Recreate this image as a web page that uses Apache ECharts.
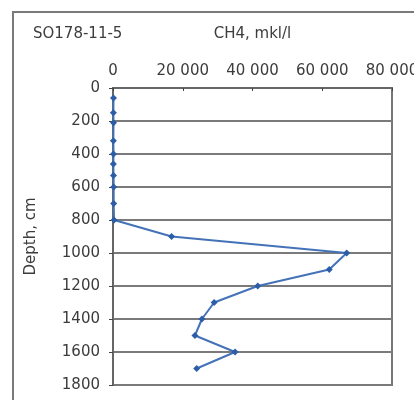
<!DOCTYPE html>
<html>
<head>
<meta charset="utf-8">
<script src="https://cdn.jsdelivr.net/npm/echarts@6/dist/echarts.min.js"></script>
<style>
  html, body { margin: 0; padding: 0; background: #fff; }
  #chart { width: 414px; height: 400px; }
</style>
</head>
<body>
<div id="chart"></div>
<script>
// depth of each sample, cm
const depths = [60, 150, 210, 320, 400, 460, 530, 600, 700, 800, 900, 1000, 1100, 1200, 1300, 1400, 1500, 1600, 1700];
// CH4 concentration, mkl/l
const ch4 = [150, 100, 150, 100, 150, 100, 150, 200, 200, 300, 16800, 67000, 62000, 41500, 29000, 25500, 23500, 35000, 24000];
const xTicks = [0, 20000, 40000, 60000, 80000];
const yTicks = [0, 200, 400, 600, 800, 1000, 1200, 1400, 1600, 1800];

const textColor = '#3c3c3c';
const font = 'DejaVu Sans';

function spaced(v) {
  return String(v).replace(/\B(?=(\d{3})+(?!\d))/g, ' ');
}

const chart = echarts.init(document.getElementById('chart'));
chart.setOption({
  animation: false,
  title: {
    text: 'SO178-11-5',
    left: 28,
    top: 22,
    textStyle: { fontFamily: font, fontSize: 15, fontWeight: 'normal', color: textColor }
  },
  graphic: [{
    type: 'rect',
    shape: { x: 13, y: 12, width: 430, height: 420 },
    style: { fill: 'none', stroke: '#7a7a7a', lineWidth: 2 },
    silent: true
  }],
  grid: {
    left: 113, top: 88, width: 279, height: 297,
    outerBoundsMode: 'none',
    show: true, borderColor: '#777', borderWidth: 2
  },
  xAxis: {
    type: 'value',
    position: 'top',
    min: xTicks[0],
    max: xTicks[xTicks.length - 1],
    interval: 20000,
    name: 'CH4, mkl/l',
    nameLocation: 'middle',
    nameGap: 46,
    nameTextStyle: { fontFamily: font, fontSize: 15, color: textColor },
    axisLine: { show: true, lineStyle: { color: '#666', width: 2 } },
    axisTick: { show: true, inside: true, length: 3, lineStyle: { color: '#444' } },
    axisLabel: {
      fontFamily: font, fontSize: 15, color: textColor, margin: 9,
      formatter: v => spaced(v)
    },
    splitLine: { show: false }
  },
  yAxis: {
    type: 'value',
    inverse: true,
    min: yTicks[0],
    max: yTicks[yTicks.length - 1],
    interval: 200,
    name: 'Depth, cm',
    nameLocation: 'middle',
    nameGap: 74,
    nameTextStyle: { fontFamily: font, fontSize: 15, color: textColor },
    axisLine: { show: true, lineStyle: { color: '#666', width: 2 } },
    axisTick: { show: true, length: 4, lineStyle: { color: '#444' } },
    axisLabel: {
      fontFamily: font, fontSize: 15, color: textColor, margin: 13,
      formatter: v => String(v)
    },
    splitLine: { show: true, lineStyle: { color: '#7a7a7a', width: 2 } }
  },
  series: [{
    type: 'line',
    data: depths.map((d, i) => [ch4[i], d]),
    symbol: 'diamond',
    symbolSize: 7,
    lineStyle: { color: '#4472b8', width: 2 },
    itemStyle: { color: '#2c5da8' }
  }]
});
</script>
</body>
</html>
